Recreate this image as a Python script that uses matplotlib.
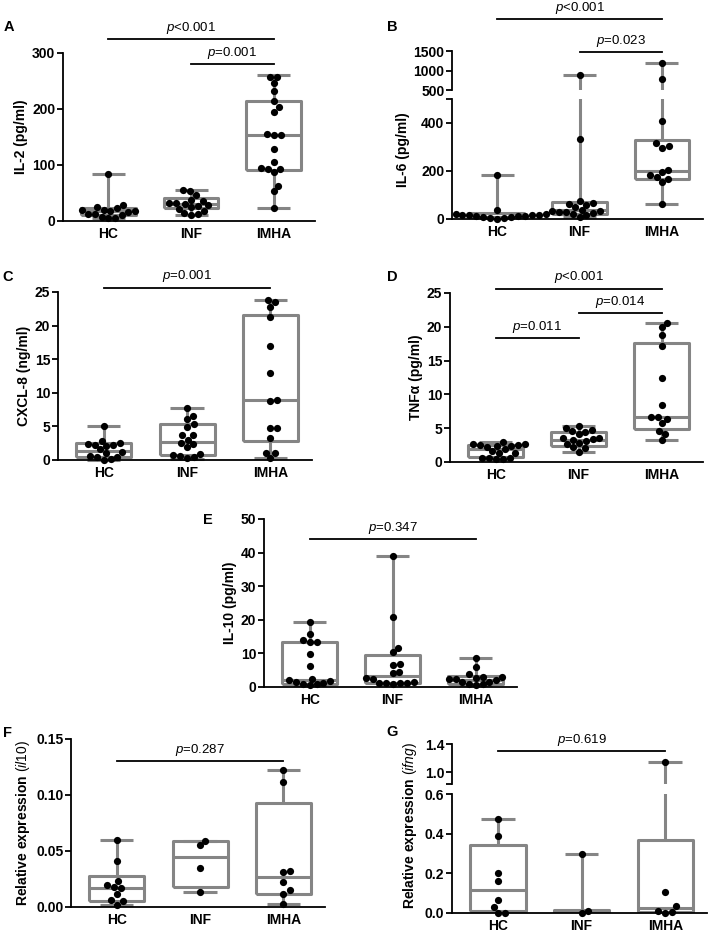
import numpy as np
import matplotlib
matplotlib.use("Agg")
import matplotlib.pyplot as plt

plt.rcParams["font.family"] = ["Liberation Sans", "DejaVu Sans"]
plt.rcParams["mathtext.fontset"] = "custom"
plt.rcParams["mathtext.it"] = "Liberation Sans:italic"
plt.rcParams["mathtext.rm"] = "Liberation Sans"

W, H = 710, 934
GROUPS = ["HC", "INF", "IMHA"]
GRAY = "#858585"
TICK_FS = 10
LABEL_FS = 10
P_FS = 9.5

# --- data -------------------------------------------------------------------
# box stats per group: (whislo, q1, med, q3, whishi)
A_box = [(5, 11, 17, 23, 84), (11, 24, 30, 41, 55), (24, 91, 153, 215, 260)]
A_pts = [
    [84, 28, 25, 23, 20, 19, 18, 17, 16, 13, 12, 10, 8, 6, 5],
    [55, 53, 47, 38, 36, 33, 33, 30, 28, 27, 25, 22, 18, 14, 12, 11],
    [258, 258, 247, 232, 214, 203, 195, 155, 154, 153, 128, 106, 95, 93, 92, 87, 63, 53, 24],
]

B_box = [(0, 3, 10, 25, 185), (8, 20, 38, 70, 890), (64, 165, 200, 328, 1200)]
B_pts = [
    [185, 38, 22, 20, 18, 17, 16, 15, 14, 13, 12, 10, 8, 6, 4, 2],
    [890, 335, 75, 65, 62, 60, 48, 38, 35, 32, 30, 28, 25, 20, 15, 10],
    [1200, 780, 410, 315, 304, 297, 205, 195, 185, 175, 168, 155, 64],
]

C_box = [(0, 0.4, 1.4, 2.5, 5.0), (0.2, 0.8, 2.7, 5.3, 7.8), (0.3, 2.8, 8.9, 21.6, 23.8)]
C_pts = [
    [5.0, 2.9, 2.5, 2.4, 2.3, 2.2, 2.1, 1.6, 1.2, 1.0, 0.6, 0.5, 0.4, 0.1, 0.0],
    [7.8, 6.6, 6.1, 5.3, 4.9, 3.7, 3.7, 3.0, 2.5, 2.4, 1.9, 0.9, 0.7, 0.6, 0.5, 0.3],
    [23.8, 23.5, 22.7, 21.3, 17.0, 13.0, 8.9, 8.8, 4.8, 4.8, 3.3, 1.1, 1.1, 0.3],
]

D_box = [(0.5, 0.8, 1.9, 2.5, 2.9), (1.5, 2.3, 3.3, 4.5, 5.3), (3.2, 4.9, 6.7, 17.6, 20.6)]
D_pts = [
    [2.9, 2.6, 2.6, 2.5, 2.5, 2.4, 2.4, 2.2, 1.9, 1.6, 1.4, 1.3, 0.6, 0.6, 0.6, 0.5, 0.5],
    [5.3, 5.1, 4.8, 4.6, 4.4, 4.2, 3.6, 3.5, 3.4, 3.3, 3.1, 2.8, 2.6, 2.2, 2.0, 1.5],
    [20.6, 20.0, 18.8, 17.2, 12.4, 8.4, 6.7, 6.6, 6.3, 5.7, 4.6, 4.1, 3.2],
]

E_box = [(0.5, 1.0, 2.0, 13.4, 19.2), (1.0, 1.3, 3.4, 9.6, 39.0), (0.5, 1.0, 2.2, 3.3, 8.6)]
E_pts = [
    [19.2, 15.8, 14.0, 13.4, 13.3, 9.7, 6.2, 2.5, 2.0, 1.9, 1.4, 1.3, 1.0, 0.8, 0.5],
    [39.0, 20.9, 11.5, 10.3, 6.8, 6.5, 4.6, 4.2, 2.6, 2.5, 1.5, 1.3, 1.3, 1.2, 1.2, 1.0],
    [8.6, 6.1, 3.8, 3.0, 2.9, 2.8, 2.5, 2.5, 2.2, 1.6, 1.5, 1.0, 0.8, 0.7],
]

F_box = [(0.002, 0.005, 0.017, 0.028, 0.060), (0.013, 0.018, 0.045, 0.059, 0.059),
         (0.003, 0.012, 0.027, 0.093, 0.122)]
F_pts = [
    [0.060, 0.041, 0.023, 0.020, 0.018, 0.017, 0.012, 0.006, 0.005, 0.002],
    [0.059, 0.055, 0.035, 0.013],
    [0.122, 0.112, 0.032, 0.031, 0.022, 0.015, 0.012, 0.003],
]

G_box = [(0.0, 0.012, 0.115, 0.345, 0.475), (0.002, 0.002, 0.010, 0.015, 0.30),
         (0.0, 0.005, 0.025, 0.37, 1.15)]
G_pts = [
    [0.475, 0.39, 0.20, 0.16, 0.068, 0.03, 0.002, 0.002],
    [0.30, 0.01, 0.002],
    [1.15, 0.105, 0.033, 0.01, 0.003, 0.002],
]


# --- helpers ----------------------------------------------------------------
def add_axes(fig, l, t, r, b):
    return fig.add_axes([l / W, 1 - b / H, (r - l) / W, (b - t) / H])


def style(ax, bottom=True):
    for s in ("top", "right"):
        ax.spines[s].set_visible(False)
    ax.spines["left"].set_linewidth(1.3)
    ax.spines["bottom"].set_linewidth(1.3)
    if not bottom:
        ax.spines["bottom"].set_visible(False)
    ax.tick_params(axis="y", which="both", length=4, width=1.3, labelsize=TICK_FS, pad=1.5)
    ax.tick_params(axis="x", length=0, labelsize=TICK_FS, pad=4)
    ax.set_xlim(-0.55, 2.5)
    ax.set_xticks([0, 1, 2])
    ax.set_xticklabels(GROUPS if bottom else [], fontweight="bold")


def set_yticks(ax, ticks, fmt):
    ax.set_yticks(ticks)
    ax.set_yticklabels([fmt.format(v) for v in ticks], fontweight="bold")


def boxes(ax, box, clip=False):
    stats = [dict(whislo=b[0], q1=b[1], med=b[2], q3=b[3], whishi=b[4]) for b in box]
    lp = dict(color=GRAY, lw=2.2, solid_capstyle="butt")
    art = ax.bxp(stats, positions=[0, 1, 2], widths=0.66, capwidths=0.4,
                 showfliers=False, boxprops=lp, whiskerprops=lp, capprops=lp,
                 medianprops=lp, manage_ticks=False)
    for lines in art.values():
        for ln in lines:
            ln.set_clip_on(clip)
            ln.set_zorder(2)


def swarm(ax, pos, ys, d=7.0):
    ys = np.asarray(ys, dtype=float)
    if len(ys) == 0:
        return
    xy = ax.transData.transform(np.column_stack([np.full(len(ys), pos), ys]))
    ypx = xy[:, 1]
    xunit = ax.transData.transform([[1, 0]])[0, 0] - ax.transData.transform([[0, 0]])[0, 0]
    order = np.argsort(ypx)
    placed = []
    offs = np.zeros(len(ys))
    for i in order:
        y = ypx[i]
        cands = [0.0]
        for px, py in placed:
            dy = y - py
            if abs(dy) < d:
                dx = np.sqrt(d * d - dy * dy)
                cands += [px + dx, px - dx]
        cands.sort(key=abs)
        for c in cands:
            if all((c - px) ** 2 + (y - py) ** 2 >= d * d - 1e-6 for px, py in placed):
                break
        placed.append((c, y))
        offs[i] = c
    ax.scatter(pos + offs / xunit, ys, s=27, color="black", zorder=3,
               clip_on=False, linewidths=0)


def bracket(ax, i, j, y, text):
    ax.plot([i, j], [y, y], color="black", lw=1.3, clip_on=False)
    ax.annotate(text, xy=((i + j) / 2, y), xytext=(0, 2.5), textcoords="offset points",
                ha="center", va="bottom", fontsize=P_FS, annotation_clip=False)


def letter(fig, x, y, s):
    fig.text(x / W, 1 - y / H, s, fontsize=10.5, fontweight="bold", ha="center", va="center")


def simple_panel(fig, rect, box, pts, ylim, yticks, ylabel, brackets, fmt="{:g}"):
    ax = add_axes(fig, *rect)
    style(ax)
    ax.set_ylim(*ylim)
    set_yticks(ax, yticks, fmt)
    boxes(ax, box)
    for k in range(3):
        swarm(ax, k, pts[k])
    ax.set_ylabel(ylabel, fontsize=LABEL_FS, fontweight="bold", labelpad=3)
    for i, j, y, t in brackets:
        bracket(ax, i, j, y, t)
    return ax


def broken_panel(fig, lower_rect, upper_rect, box, pts, lo_lim, lo_ticks, up_lim, up_ticks,
                 fmt, lo_mark=None, up_mark=None):
    ax = add_axes(fig, *lower_rect)
    ax_up = add_axes(fig, *upper_rect)
    style(ax)
    style(ax_up, bottom=False)
    ax.set_ylim(*lo_lim)
    ax_up.set_ylim(*up_lim)
    set_yticks(ax, lo_ticks, fmt)
    set_yticks(ax_up, up_ticks, fmt)
    if lo_mark is not None:
        ax.set_yticks([lo_mark], minor=True)
    if up_mark is not None:
        ax_up.set_yticks([up_mark], minor=True)
    boxes(ax, box, clip=True)
    boxes(ax_up, box, clip=True)
    for k in range(3):
        p = np.asarray(pts[k])
        swarm(ax, k, p[p <= lo_lim[1]])
        swarm(ax_up, k, p[p > lo_lim[1]])
    return ax, ax_up


fig = plt.figure(figsize=(W / 100, H / 100), dpi=100)

# A
simple_panel(fig, (63, 53, 315, 221), A_box, A_pts, (0, 300), [0, 100, 200, 300],
             "IL-2 (pg/ml)",
             [(0, 2, 325, "$\\mathit{p}$<0.001"), (1, 2, 280, "$\\mathit{p}$=0.001")])
letter(fig, 9, 27, "A")

# B (broken axis)
axB, axB_up = broken_panel(fig, (452, 99, 703, 219), (452, 51, 703, 90), B_box, B_pts,
                           (0, 500), [0, 200, 400], (500, 1500), [500, 1000, 1500],
                           "{:.0f}", lo_mark=500)
bracket(axB_up, 0, 2, 2320, "$\\mathit{p}$<0.001")
bracket(axB_up, 1, 2, 1475, "$\\mathit{p}$=0.023")
fig.text(403 / W, 1 - 150 / H, "IL-6 (pg/ml)", rotation=90, fontsize=LABEL_FS,
         fontweight="bold", ha="center", va="center")
letter(fig, 392, 27, "B")

# C
simple_panel(fig, (58, 292, 312, 460), C_box, C_pts, (0, 25), [0, 5, 10, 15, 20, 25],
             "CXCL-8 (ng/ml)", [(0, 2, 25.6, "$\\mathit{p}$=0.001")])
letter(fig, 8, 277, "C")

# D
simple_panel(fig, (450, 293, 703, 462), D_box, D_pts, (0, 25), [0, 5, 10, 15, 20, 25],
             "TNFα (pg/ml)",
             [(0, 2, 25.6, "$\\mathit{p}$<0.001"), (1, 2, 22.0, "$\\mathit{p}$=0.014"),
              (0, 1, 18.3, "$\\mathit{p}$=0.011")])
letter(fig, 392, 277, "D")

# E
simple_panel(fig, (264, 519, 517, 687), E_box, E_pts, (0, 50), [0, 10, 20, 30, 40, 50],
             "IL-10 (pg/ml)", [(0, 2, 44.0, "$\\mathit{p}$=0.347")])
letter(fig, 208, 520, "E")

# F
simple_panel(fig, (71, 739, 325, 907), F_box, F_pts, (0, 0.15), [0, 0.05, 0.10, 0.15],
             "Relative expression $\\mathit{(il10)}$",
             [(0, 2, 0.130, "$\\mathit{p}$=0.287")], fmt="{:.2f}")
letter(fig, 8, 733, "F")

# G (broken axis)
axG, axG_up = broken_panel(fig, (452, 794, 707, 913), (452, 744, 707, 784), G_box, G_pts,
                           (0, 0.6), [0, 0.2, 0.4, 0.6], (0.83, 1.4), [1.0, 1.4],
                           "{:.1f}", up_mark=0.83)
bracket(axG_up, 0, 2, 1.30, "$\\mathit{p}$=0.619")
fig.text(410 / W, 1 - 826 / H, "Relative expression $\\mathit{(ifng)}$", rotation=90,
         fontsize=LABEL_FS, fontweight="bold", ha="center", va="center")
letter(fig, 392, 732, "G")

fig.savefig("out.png", dpi=100)
